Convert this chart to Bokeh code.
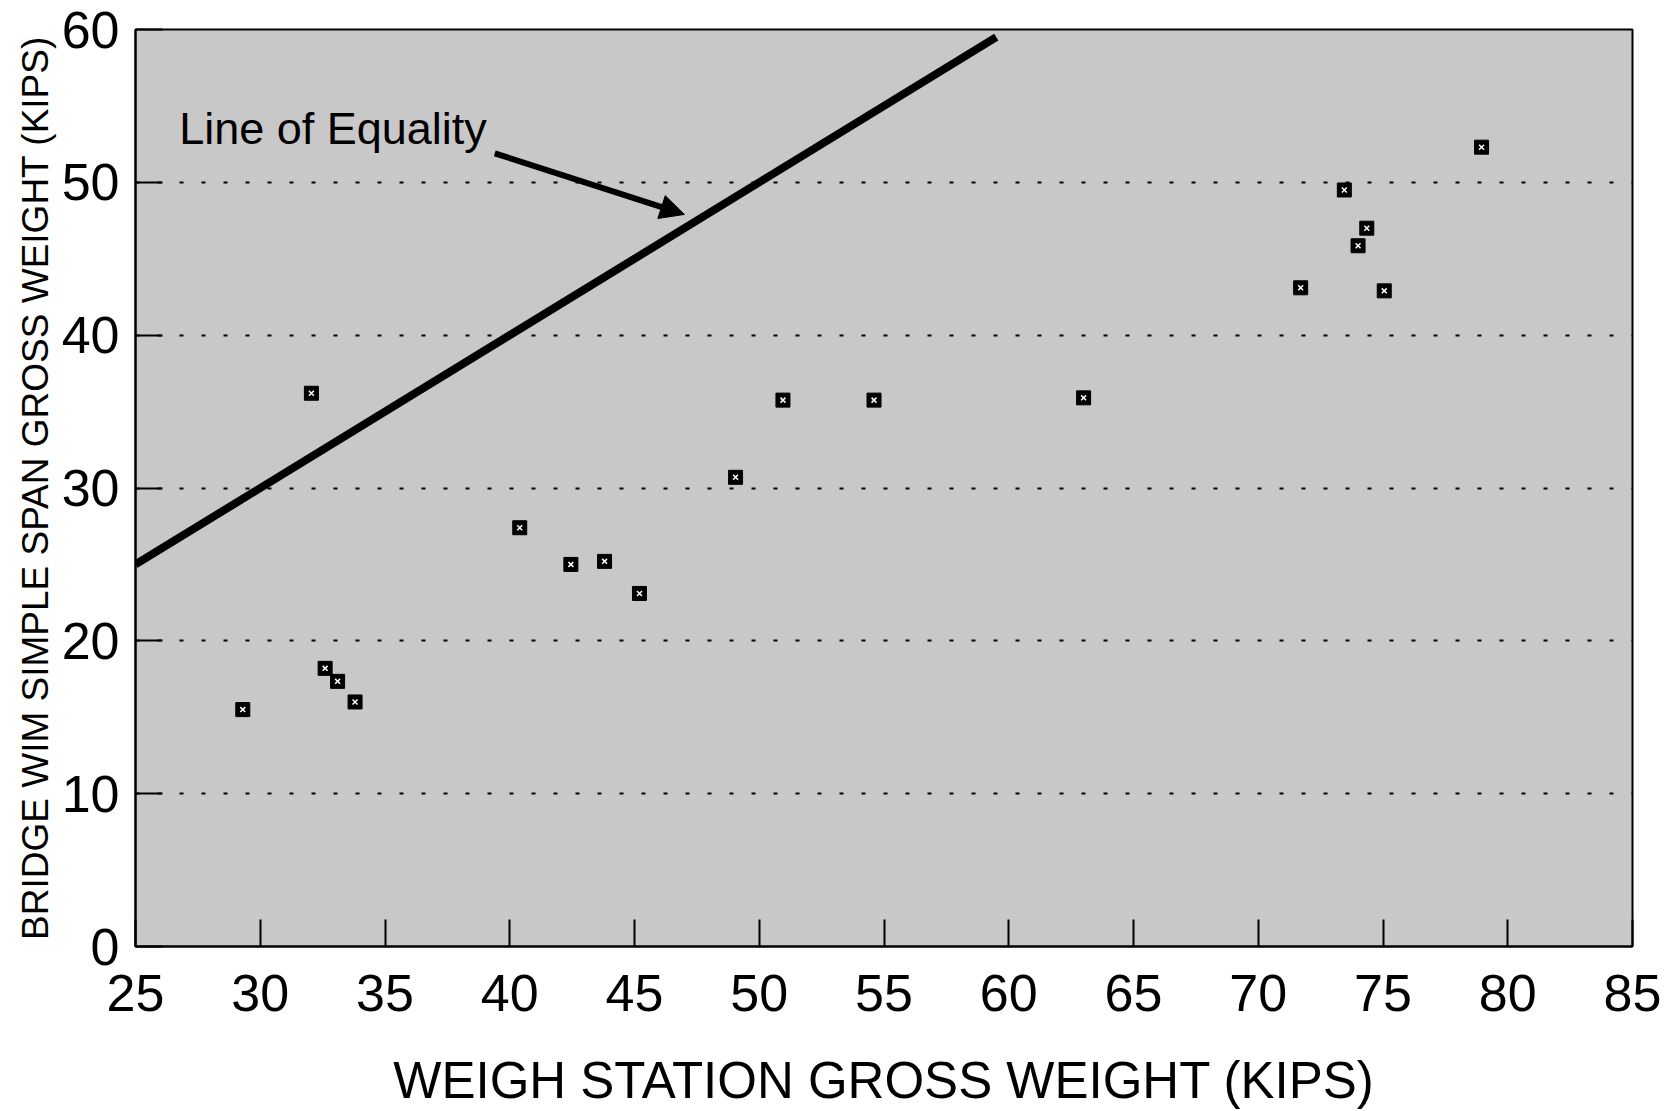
from bokeh.plotting import figure
from bokeh.models import Range1d, FixedTicker, Arrow, NormalHead, Label
from bokeh.embed import file_html
from bokeh.resources import INLINE

# Data
station_weight = [29.3, 32.05, 32.6, 33.1, 33.8, 40.4, 42.45, 43.8, 45.2, 49.05,
                  50.95, 54.6, 63.0, 71.7, 73.45, 74.0, 74.35, 75.05, 78.95]
wim_weight = [15.5, 36.2, 18.2, 17.35, 16.0, 27.4, 25.0, 25.2, 23.1, 30.7,
              35.75, 35.75, 35.9, 43.1, 49.5, 45.85, 47.0, 42.9, 52.3]
equality_x = [25, 59.5]
equality_y = [25, 59.5]
x_ticks = [25, 30, 35, 40, 45, 50, 55, 60, 65, 70, 75, 80, 85]
y_ticks = [0, 10, 20, 30, 40, 50, 60]
arrow_start = (39.4, 51.9)
arrow_end = (47.0, 47.9)
annotation_text = "Line of Equality"
x_title = "WEIGH STATION GROSS WEIGHT (KIPS)"
y_title = "BRIDGE WIM SIMPLE SPAN GROSS WEIGHT (KIPS)"

p = figure(frame_width=1497, frame_height=917,
           x_range=Range1d(25, 85), y_range=Range1d(0, 60),
           output_backend="svg", toolbar_location=None,
           min_border_left=135, min_border_right=34,
           min_border_top=29, min_border_bottom=20)

p.background_fill_color = "#c8c8c8"
p.border_fill_color = "white"
p.outline_line_color = "black"
p.outline_line_width = 2

p.xaxis.ticker = FixedTicker(ticks=x_ticks)
p.yaxis.ticker = FixedTicker(ticks=y_ticks)
for ax in (p.xaxis, p.yaxis):
    ax.minor_tick_line_color = None
    ax.major_tick_in = 27
    ax.major_tick_out = 0
    ax.major_tick_line_width = 2
    ax.major_tick_line_color = "black"
    ax.axis_line_width = 2
    ax.axis_line_color = "black"
    ax.major_label_text_font = "Liberation Sans"
    ax.major_label_text_font_size = "52px"
    ax.major_label_text_color = "black"
    ax.axis_label_text_font = "Liberation Sans"
    ax.axis_label_text_font_style = "normal"
    ax.axis_label_text_color = "black"

p.xaxis.axis_label = x_title
p.xaxis.axis_label_text_font_size = "51px"
p.xaxis.major_label_standoff = 28
p.xaxis.axis_label_standoff = 38

p.yaxis.axis_label = y_title
p.yaxis.axis_label_text_font_size = "37px"
p.yaxis.major_label_standoff = 16
p.yaxis.axis_label_standoff = 3

p.xgrid.visible = False
p.ygrid.grid_line_color = "black"
p.ygrid.grid_line_dash = "4 18"
p.ygrid.grid_line_width = 2

# line of equality
p.line(equality_x, equality_y, line_color="black", line_width=8)

# arrow and label
p.add_layout(Arrow(end=NormalHead(size=24, fill_color="black", line_color="black"),
                   x_start=arrow_start[0], y_start=arrow_start[1],
                   x_end=arrow_end[0], y_end=arrow_end[1],
                   line_color="black", line_width=6))
p.add_layout(Label(x=26.75, y=53.5, text=annotation_text,
                   text_font="Liberation Sans", text_font_size="45px",
                   text_baseline="middle", text_align="left", text_color="black"))

# data points
p.scatter(station_weight, wim_weight, marker="square", size=14,
          fill_color="black", line_color="black")
p.scatter(station_weight, wim_weight, marker="x", size=7,
          line_color="white", line_width=1.5)

open("out.html", "w").write(file_html(p, INLINE))
